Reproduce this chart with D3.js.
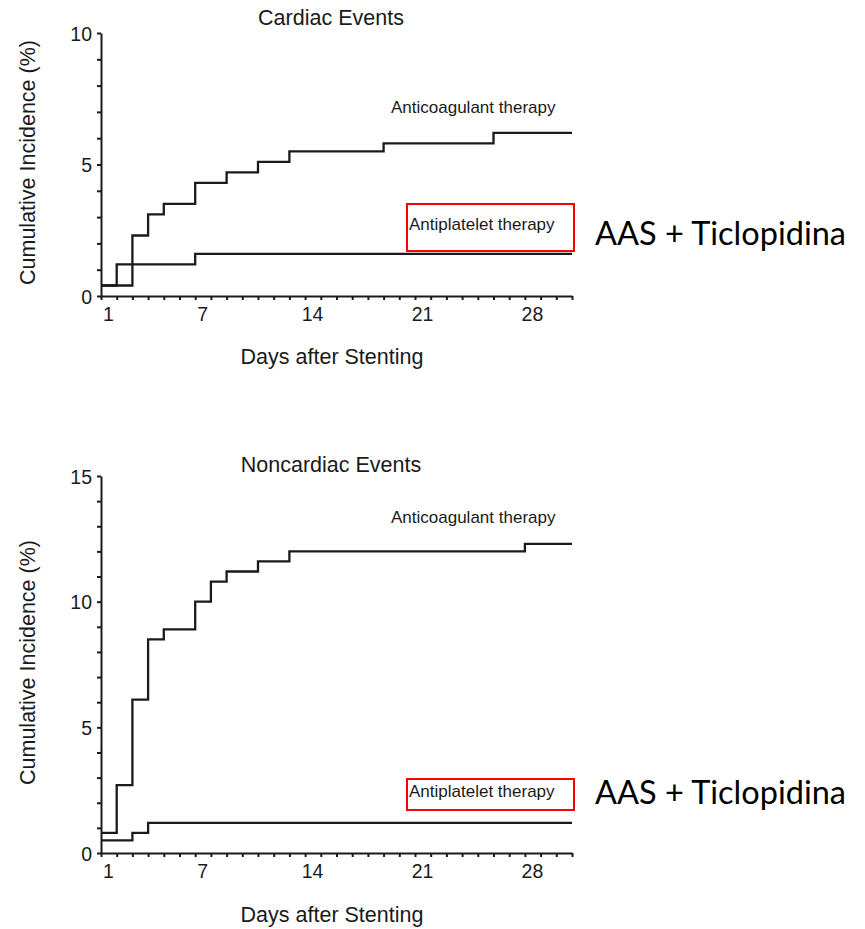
<!DOCTYPE html>
<html>
<head>
<meta charset="utf-8">
<script src="https://cdn.jsdelivr.net/npm/d3@7"></script>
<style>
  html, body { margin: 0; padding: 0; background: #fff; }
  svg { display: block; }
</style>
</head>
<body>
<div id="chart"></div>
<script>
// ---- data (day of step, cumulative %) ----
const dayTicks = d3.range(1, 32);
const dayLabels = [1, 7, 14, 21, 28];

const cardiacAnticoagDays = [1, 3, 4, 5, 7, 9, 11, 13, 19, 26, 31];
const cardiacAnticoagPct  = [0.4, 2.3, 3.1, 3.5, 4.3, 4.7, 5.1, 5.5, 5.8, 6.2, 6.2];
const cardiacAntiplateletDays = [1, 2, 7, 31];
const cardiacAntiplateletPct  = [0.4, 1.2, 1.6, 1.6];

const noncardiacAnticoagDays = [1, 2, 3, 4, 5, 7, 8, 9, 11, 13, 28, 31];
const noncardiacAnticoagPct  = [0.8, 2.7, 6.1, 8.5, 8.9, 10.0, 10.8, 11.2, 11.6, 12.0, 12.3, 12.3];
const noncardiacAntiplateletDays = [1, 3, 4, 31];
const noncardiacAntiplateletPct  = [0.5, 0.8, 1.2, 1.2];

const panelTitles = ["Cardiac Events", "Noncardiac Events"];
const yMaxes = [10, 15];
const yLabelEvery = 5;
const anticoagLabel = "Anticoagulant therapy";
const antiplateletLabel = "Antiplatelet therapy";
const noteLabel = "AAS + Ticlopidina";
const xTitle = "Days after Stenting";
const yTitle = "Cumulative Incidence (%)";

const W = 865, H = 929;
const FONT = "'Liberation Sans', Arial, Helvetica, sans-serif";
const INK = "#1a1a1a";

const svg = d3.select("#chart").append("svg")
  .attr("width", W).attr("height", H)
  .style("background", "#fff");

// layout per panel (pixels)
const panels = [
  {
    title: panelTitles[0], yMax: yMaxes[0],
    top: 33, bottom: 296, titleY: 25, xTitleY: 364,
    series: [
      { days: cardiacAnticoagDays, pct: cardiacAnticoagPct },
      { days: cardiacAntiplateletDays, pct: cardiacAntiplateletPct }
    ],
    anticoagY: 113, antiplateletY: 230,
    box: { y0: 204, y1: 251 }, noteY: 245
  },
  {
    title: panelTitles[1], yMax: yMaxes[1],
    top: 476, bottom: 853, titleY: 472, xTitleY: 922,
    series: [
      { days: noncardiacAnticoagDays, pct: noncardiacAnticoagPct },
      { days: noncardiacAntiplateletDays, pct: noncardiacAntiplateletPct }
    ],
    anticoagY: 523, antiplateletY: 797,
    box: { y0: 779, y1: 810 }, noteY: 804
  }
];

const left = 101, right = 572;

panels.forEach(p => {
  const g = svg.append("g");

  const x = d3.scaleLinear().domain([1, 31]).range([left, right]);
  const y = d3.scaleLinear().domain([0, p.yMax]).range([p.bottom, p.top]);

  // x axis
  const gx = g.append("g")
    .attr("transform", `translate(0,${p.bottom})`)
    .call(d3.axisBottom(x)
      .tickValues(dayTicks)
      .tickSize(4).tickSizeOuter(0).tickPadding(6)
      .tickFormat(d => dayLabels.includes(d) ? d : ""));

  // y axis
  const gy = g.append("g")
    .attr("transform", `translate(${left},0)`)
    .call(d3.axisLeft(y)
      .tickValues(d3.range(0, p.yMax + 1))
      .tickSize(4).tickSizeOuter(0).tickPadding(5)
      .tickFormat(d => d % yLabelEvery === 0 ? d : ""));

  [gx, gy].forEach(a => {
    a.selectAll("path,line").attr("stroke", INK).attr("stroke-width", 2);
    a.selectAll("text").attr("fill", INK).attr("font-family", FONT).attr("font-size", 19.5);
  });
  gx.selectAll("text").attr("dx", 7).attr("dy", "0.78em");
  gy.selectAll("text").attr("dy", "0.36em");

  // step lines
  const line = d3.line()
    .x(d => x(d[0]))
    .y(d => y(d[1]))
    .curve(d3.curveStepAfter);

  p.series.forEach(s => {
    g.append("path")
      .datum(s.days.map((d, i) => [d, s.pct[i]]))
      .attr("fill", "none")
      .attr("stroke", INK)
      .attr("stroke-width", 2.3)
      .attr("d", line);
  });

  // titles
  g.append("text")
    .attr("x", 331).attr("y", p.titleY)
    .attr("text-anchor", "middle")
    .attr("font-family", FONT).attr("font-size", 21.5).attr("fill", INK)
    .text(p.title);

  g.append("text")
    .attr("x", 332).attr("y", p.xTitleY)
    .attr("text-anchor", "middle")
    .attr("font-family", FONT).attr("font-size", 21.5).attr("fill", INK)
    .text(xTitle);

  g.append("text")
    .attr("transform", `translate(35,${(p.top + p.bottom) / 2 - 2}) rotate(-90)`)
    .attr("text-anchor", "middle")
    .attr("font-family", FONT).attr("font-size", 21.5).attr("fill", INK)
    .text(yTitle);

  // series labels
  g.append("text")
    .attr("x", 391).attr("y", p.anticoagY)
    .attr("font-family", FONT).attr("font-size", 17).attr("fill", INK)
    .text(anticoagLabel);

  g.append("text")
    .attr("x", 409).attr("y", p.antiplateletY)
    .attr("font-family", FONT).attr("font-size", 17).attr("fill", INK)
    .text(antiplateletLabel);

  // red highlight box + note
  g.append("rect")
    .attr("x", 407).attr("y", p.box.y0)
    .attr("width", 574 - 407).attr("height", p.box.y1 - p.box.y0)
    .attr("fill", "none").attr("stroke", "#ff0000").attr("stroke-width", 2);

  g.append("text")
    .attr("x", 595).attr("y", p.noteY)
    .attr("font-family", "Lato, 'Open Sans', sans-serif").attr("font-size", 32.5)
    .attr("fill", "#000")
    .text(noteLabel);
});
</script>
</body>
</html>
